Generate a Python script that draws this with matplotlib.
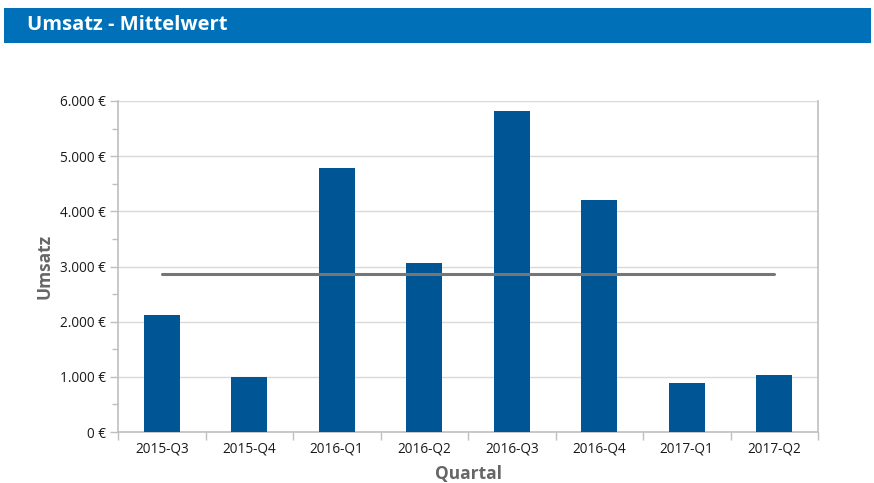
import matplotlib
matplotlib.use("Agg")
import matplotlib.pyplot as plt
from matplotlib.patches import Rectangle
from matplotlib.ticker import FixedLocator, MultipleLocator, FuncFormatter
import numpy as np

plt.rcParams['font.family'] = ['Open Sans', 'DejaVu Sans']

quarters = ["2015-Q3", "2015-Q4", "2016-Q1", "2016-Q2",
            "2016-Q3", "2016-Q4", "2017-Q1", "2017-Q2"]
umsatz = [2120, 1000, 4780, 3060, 5820, 4200, 880, 1040]
y_ticks = [0, 1000, 2000, 3000, 4000, 5000, 6000]

title = "Umsatz - Mittelwert"
x_label = "Quartal"
y_label = "Umsatz"

fig = plt.figure(figsize=(8.74, 4.83), dpi=100)

# header band
fig.patches.append(Rectangle((4 / 874, 1 - 43 / 483), 867 / 874, 35 / 483,
                             transform=fig.transFigure, facecolor="#0071B9",
                             edgecolor="none", zorder=0))
fig.text(27 / 874, 1 - 25.5 / 483, title, color="white", fontsize=14.5,
         fontweight="bold", va="center", ha="left")

ax = fig.add_axes([118 / 874, 51 / 483, 700 / 874, 331 / 483])

x = np.arange(len(quarters))
ax.bar(x, umsatz, width=0.41, color="#005695", zorder=3)

mean_val = np.mean(umsatz)
ax.plot([x[0], x[-1]], [mean_val, mean_val], color="#767676", lw=2.2,
        solid_capstyle="round", zorder=4)

ax.set_xlim(-0.5, len(quarters) - 0.5)
ax.set_ylim(0, 6000)

ax.set_yticks(y_ticks)
ax.yaxis.set_minor_locator(MultipleLocator(500))
ax.yaxis.set_major_formatter(FuncFormatter(
    lambda v, p: f"{int(v):,}".replace(",", ".") + " €"))
ax.grid(axis="y", which="major", color="#D9D9D9", lw=1, zorder=0)

ax.set_xticks(x)
ax.set_xticklabels(quarters)
ax.xaxis.set_minor_locator(FixedLocator(np.arange(-0.5, len(quarters), 1.0)))
ax.tick_params(axis="x", which="major", length=0, pad=7, labelsize=9.8,
               labelcolor="#1A1A1A")
ax.tick_params(axis="x", which="minor", length=6, color="#BFBFBF", width=1)
ax.tick_params(axis="y", which="major", length=6, color="#BFBFBF", width=1,
               labelsize=9.8, labelcolor="#1A1A1A", pad=3)
ax.tick_params(axis="y", which="minor", length=4, color="#BFBFBF", width=1)

for side in ["left", "right", "bottom"]:
    ax.spines[side].set_color("#BFBFBF")
    ax.spines[side].set_linewidth(1.2)
ax.spines["top"].set_visible(False)

ax.set_xlabel(x_label, fontsize=12.5, fontweight="bold", color="#666666",
              labelpad=6)
ax.set_ylabel(y_label, fontsize=12.5, fontweight="bold", color="#666666",
              labelpad=4)

fig.savefig("out.png", dpi=100)
